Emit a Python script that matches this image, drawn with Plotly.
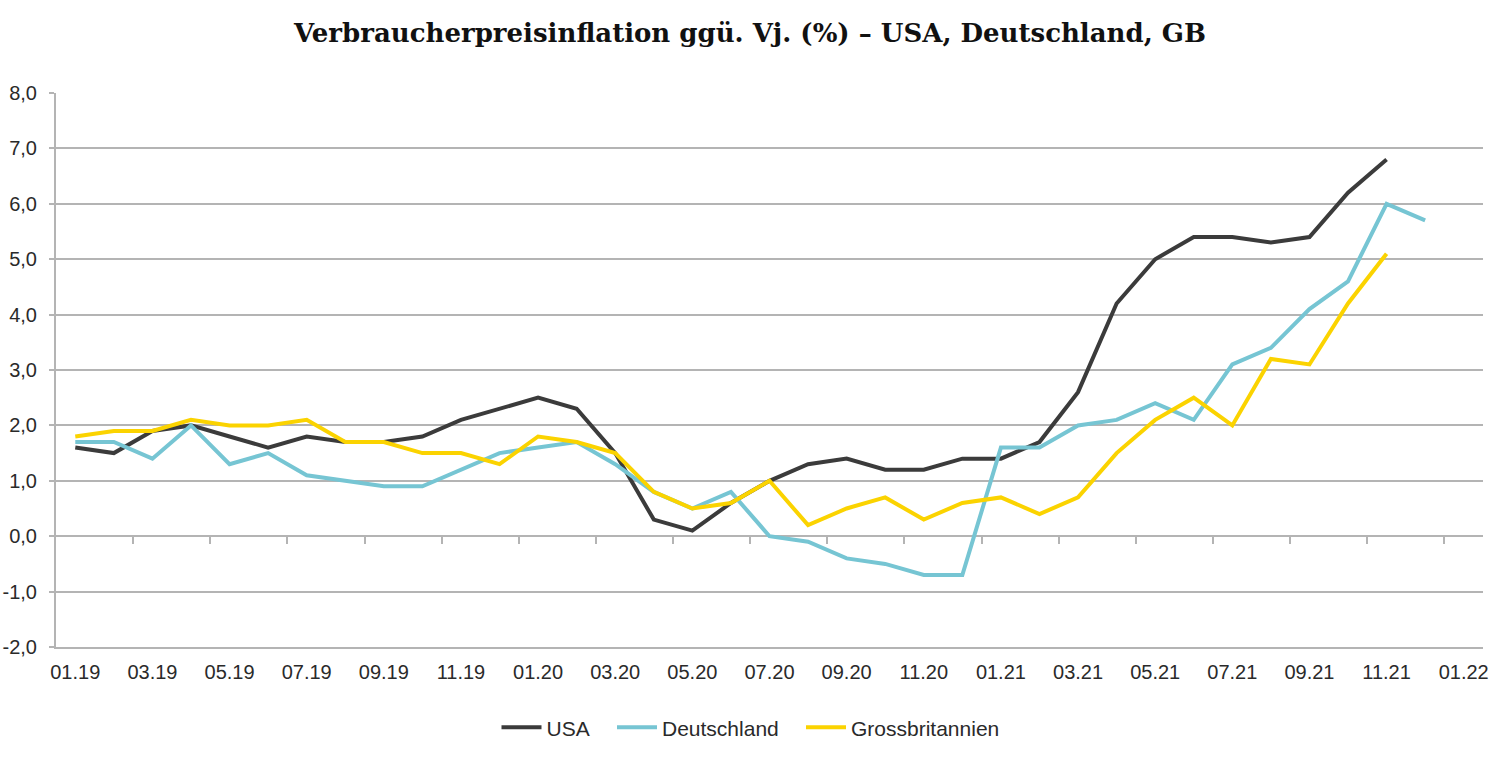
import plotly.graph_objects as go

months = ["01.19","02.19","03.19","04.19","05.19","06.19","07.19","08.19","09.19","10.19","11.19","12.19",
          "01.20","02.20","03.20","04.20","05.20","06.20","07.20","08.20","09.20","10.20","11.20","12.20",
          "01.21","02.21","03.21","04.21","05.21","06.21","07.21","08.21","09.21","10.21","11.21","12.21",
          "01.22"]

usa = [1.6,1.5,1.9,2.0,1.8,1.6,1.8,1.7,1.7,1.8,2.1,2.3,
       2.5,2.3,1.5,0.3,0.1,0.6,1.0,1.3,1.4,1.2,1.2,1.4,
       1.4,1.7,2.6,4.2,5.0,5.4,5.4,5.3,5.4,6.2,6.8]
deutschland = [1.7,1.7,1.4,2.0,1.3,1.5,1.1,1.0,0.9,0.9,1.2,1.5,
               1.6,1.7,1.3,0.8,0.5,0.8,0.0,-0.1,-0.4,-0.5,-0.7,-0.7,
               1.6,1.6,2.0,2.1,2.4,2.1,3.1,3.4,4.1,4.6,6.0,5.7]
gb = [1.8,1.9,1.9,2.1,2.0,2.0,2.1,1.7,1.7,1.5,1.5,1.3,
      1.8,1.7,1.5,0.8,0.5,0.6,1.0,0.2,0.5,0.7,0.3,0.6,
      0.7,0.4,0.7,1.5,2.1,2.5,2.0,3.2,3.1,4.2,5.1]

y_ticks = [-2, -1, 0, 1, 2, 3, 4, 5, 6, 7, 8]
y_ticktext = [f"{v:.1f}".replace(".", ",") for v in y_ticks]

idx = list(range(len(months)))
label_idx = idx[::2]
label_txt = [months[i] for i in label_idx]
between_ticks = [i + 1.5 for i in idx[::2] if i + 1.5 < len(months) - 1]

series = [
    ("USA", usa, "#3b3b3b", "x", "legend", 0.331),
    ("Deutschland", deutschland, "#76c5d3", "x", "legend2", 0.408),
    ("Grossbritannien", gb, "#fbd300", "x2", "legend3", 0.534),
]

fig = go.Figure()
for name, vals, color, xa, lg, _ in series:
    fig.add_trace(go.Scatter(
        x=idx[:len(vals)], y=vals, name=name, mode="lines",
        line=dict(color=color, width=4), xaxis=xa, yaxis="y", legend=lg))

grid = "#b4b4b4"
axfont = dict(family="Liberation Sans, Arial, sans-serif", size=20, color="#2a2a2a")
xr = [-0.5, len(months) - 0.5]

legend_common = dict(orientation="h", xref="container", xanchor="left",
                     y=0.04, yref="container", yanchor="middle",
                     font=dict(family="Liberation Sans, Arial, sans-serif", size=21, color="#2a2a2a"),
                     itemwidth=40, bgcolor="rgba(0,0,0,0)")
legends = {}
for name, vals, color, xa, lg, lx in series:
    legends[lg] = dict(legend_common, x=lx)

fig.update_layout(
    width=1500, height=758,
    paper_bgcolor="white", plot_bgcolor="white",
    margin=dict(l=56, r=17, t=93, b=111),
    title=dict(text="<b>Verbraucherpreisinflation ggü. Vj. (%) – USA, Deutschland, GB</b>",
               x=0.5, xref="container", xanchor="center", y=0.957, yref="container", yanchor="middle",
               font=dict(family="DejaVu Serif, serif", size=26, color="#111111")),
    xaxis=dict(range=xr, tickmode="array", tickvals=label_idx, ticktext=label_txt,
               showgrid=False, zeroline=False, showline=True, linecolor=grid, linewidth=2,
               ticks="outside", ticklen=6, tickcolor="rgba(0,0,0,0)", tickfont=axfont,
               automargin=False),
    xaxis2=dict(range=xr, overlaying="x", anchor="free", position=0.2, side="bottom",
                matches="x", tickmode="array", tickvals=between_ticks, ticktext=["" for _ in between_ticks],
                ticks="outside", ticklen=7, tickwidth=2, tickcolor=grid,
                showgrid=False, zeroline=False, showline=False, showticklabels=False,
                automargin=False),
    yaxis=dict(range=[-2, 8], tickmode="array", tickvals=y_ticks, ticktext=y_ticktext,
               showgrid=True, gridcolor=grid, gridwidth=2, zeroline=False,
               showline=True, linecolor=grid, linewidth=2,
               ticks="outside", ticklen=5, tickwidth=2, tickcolor=grid, tickfont=axfont,
               ticklabelstandoff=8, automargin=False),
    showlegend=True,
    **legends,
)

fig.write_html("out.html")
